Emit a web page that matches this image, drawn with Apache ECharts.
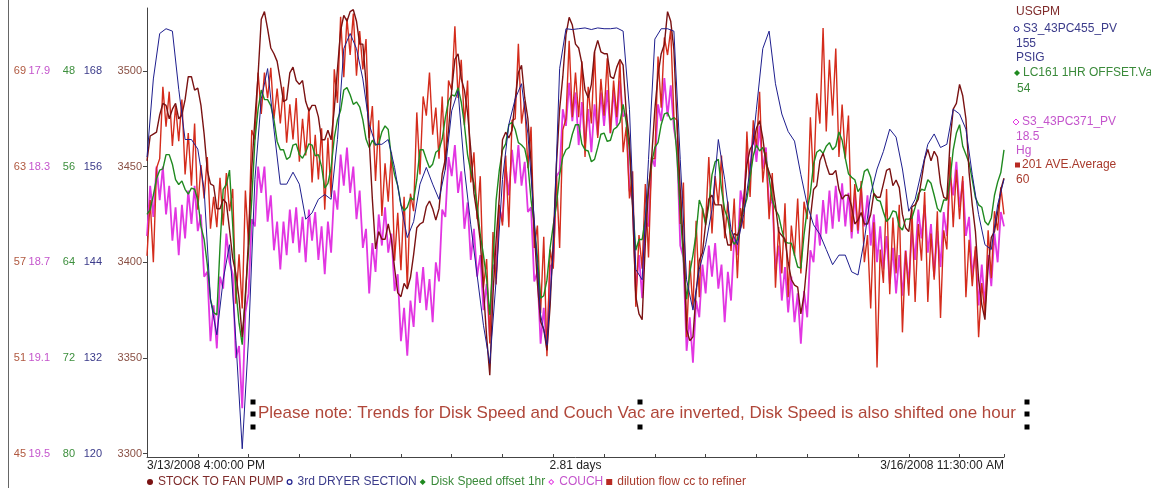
<!DOCTYPE html>
<html><head><meta charset="utf-8">
<script src="https://cdn.jsdelivr.net/npm/echarts@6/dist/echarts.min.js"></script>
<style>html,body{margin:0;padding:0;background:#fff;}#chart{width:1151px;height:488px;}</style>
</head><body><div id="chart"></div>
<script>
// ---- axis / label texts ----
const startLabel = '3/13/2008 4:00:00 PM';
const endLabel = '3/16/2008 11:30:00 AM';
const spanLabel = '2.81 days';
const spanHours = 67.5;               // 2.81 days
const note = 'Please note: Trends for Disk Speed and Couch Vac are inverted, Disk Speed is also shifted one hour';

const stockTicks = [3300, 3350, 3400, 3450, 3500];
const dryerTicks = [120, 132, 144, 156, 168];
const diskTicks = [80, 72, 64, 56, 48];
const couchTicks = [19.5, 19.1, 18.7, 18.3, 17.9];
const dilutionTicks = [45, 51, 57, 63, 69];

const seriesNames = ['STOCK TO FAN PUMP', '3rd DRYER SECTION', 'Disk Speed offset 1hr', 'COUCH', 'dilution flow cc to refiner'];

// ---- values (stock, disk, couch, dilution every 15 min; dryer every 30 min) ----
const stockValues = [
3453,3466,3467,3468,3477,3483,3482,3475,3480,3483,
3475,3477,3485,3497,3497,3490,3491,3482,3467,3448,
3441,3440,3428,3428,3433,3431,3417,3402,3394,3381,
3361,3381,3413,3449,3475,3498,3527,3531,3522,3512,
3509,3505,3495,3484,3485,3499,3502,3495,3493,3495,
3484,3479,3482,3482,3476,3464,3464,3469,3464,3480,
3501,3521,3529,3526,3531,3532,3526,3514,3514,3494,
3464,3433,3407,3416,3412,3412,3420,3412,3397,3384,
3382,3389,3386,3392,3404,3418,3420,3421,3429,3432,
3428,3422,3428,3446,3454,3469,3490,3506,3509,3496,
3490,3478,3459,3436,3425,3411,3386,3361,3341,3383,
3412,3434,3464,3468,3465,3469,3485,3499,3503,3486,
3475,3452,3417,3389,3369,3365,3354,3377,3412,3451,
3480,3497,3519,3528,3524,3514,3512,3504,3490,3486,
3493,3510,3516,3510,3509,3509,3497,3496,3502,3506,
3503,3478,3464,3428,3382,3373,3370,3410,3438,3455,
3480,3498,3509,3514,3531,3526,3511,3472,3438,3408,
3365,3359,3361,3384,3401,3405,3420,3433,3435,3430,
3430,3430,3417,3409,3409,3415,3414,3418,3433,3451,
3459,3462,3470,3474,3465,3452,3447,3442,3430,3416,
3414,3412,3400,3391,3388,3387,3373,3383,3401,3423,
3438,3440,3453,3457,3451,3446,3446,3448,3438,3433,
3435,3435,3429,3420,3422,3426,3420,3420,3425,3436,
3434,3434,3441,3448,3449,3440,3443,3439,3425,3418,
3416,3429,3430,3433,3443,3454,3459,3453,3458,3455,
3441,3434,3433,3463,3480,3483,3493,3487,3475,3447,
3430,3416,3391,3378,3370,3398,3413,3416,3426,3438,
3444];

const dryerValues = [
157.2,167.0,172.7,173.3,173.0,165.7,159.4,159.4,158.2,153.1,
139.3,134.9,141.8,146.2,134.2,120.6,134.5,154.4,164.5,168.3,
160.7,153.8,153.8,155.3,153.8,149.4,150.2,151.9,152.5,151.9,
159.4,170.8,172.7,170.8,167.0,161.3,158.8,158.8,159.4,155.9,
151.2,147.1,149.1,153.8,155.9,153.8,151.9,155.7,163.0,165.5,
155.7,148.7,142.4,136.1,131.3,141.8,154.4,161.3,164.5,166.4,
160.1,149.4,137.4,133.6,145.6,168.3,173.3,173.2,173.3,173.4,
173.2,173.4,173.3,173.3,173.4,173.0,163.2,143.1,141.8,156.9,
172.0,173.3,173.3,173.0,156.9,141.8,138.0,143.1,146.2,150.6,
159.4,154.4,148.1,146.2,150.0,155.7,163.2,170.8,173.0,166.4,
162.6,160.4,159.2,155.0,151.2,148.7,147.5,145.6,143.7,144.9,
144.9,142.8,142.4,146.8,152.5,155.7,157.9,160.7,159.7,155.7,
150.4,151.9,155.4,158.8,160.1,158.4,158.8,163.2,162.6,160.7,
155.0,150.0,146.2,145.6,151.2,154.4];

const diskValues = [
60.0,59.6,58.4,57.0,56.3,56.2,55.0,55.0,55.8,57.1,
57.5,57.2,57.9,58.3,57.8,57.9,58.8,61.0,62.1,64.2,
67.1,68.2,68.4,62.7,57.9,57.5,56.3,60.9,66.3,69.1,
70.9,66.6,63.0,58.8,53.8,51.2,49.6,50.4,50.4,50.9,
52.1,53.9,54.6,54.6,55.4,55.2,54.2,54.1,55.0,55.3,
54.8,54.1,54.2,55.1,55.0,56.0,57.8,57.4,56.1,53.6,
52.1,51.3,49.6,49.4,50.0,50.8,50.6,51.0,52.1,53.7,
54.4,53.8,54.2,54.1,53.1,52.6,52.9,55.3,56.7,57.6,
59.2,59.7,59.4,58.6,58.8,57.1,54.6,54.6,55.4,56.1,
55.8,54.8,54.6,53.7,51.9,50.5,50.0,50.1,49.4,50.6,
52.5,55.0,56.4,57.4,59.2,61.7,63.4,65.4,68.4,64.0,
58.8,56.3,54.6,54.1,52.5,52.3,52.9,54.0,54.2,54.5,
55.8,58.8,60.9,63.6,67.0,66.8,65.5,62.8,60.9,59.2,
56.7,55.2,54.6,54.4,53.3,52.5,52.5,54.1,54.6,54.7,
55.6,55.4,54.4,53.3,53.2,53.9,53.8,52.9,52.7,52.3,
50.8,52.3,54.6,59.2,63.0,62.1,62.1,60.4,57.8,55.7,
54.4,54.0,52.5,51.6,51.5,52.1,51.9,55.3,59.6,63.8,
67.1,64.9,63.4,61.6,58.8,59.5,60.9,59.2,56.7,55.6,
55.4,57.9,59.6,60.4,61.9,62.5,62.1,60.5,59.6,58.7,
56.9,55.1,54.2,54.7,54.4,55.3,56.9,58.8,59.6,60.1,
61.3,62.3,62.4,62.4,63.4,64.4,64.5,61.7,59.6,58.2,
55.8,54.8,54.6,54.9,54.3,54.0,54.6,54.3,53.1,53.8,
55.3,56.6,56.9,57.1,58.1,57.7,56.4,56.2,56.9,58.3,
58.8,58.9,59.8,60.6,60.3,59.7,59.8,61.0,61.3,60.4,
60.4,60.3,59.4,58.3,57.9,58.0,57.1,57.4,58.4,59.5,
59.8,58.8,58.8,57.1,54.6,53.2,52.5,54.3,55.0,55.7,
57.1,58.6,59.2,59.4,60.6,60.9,60.3,58.4,57.3,56.5,
54.6];

const couchValues = [
18.59,18.38,18.51,18.30,18.44,18.30,18.50,18.38,18.61,18.47,
18.67,18.46,18.60,18.40,18.54,18.38,18.57,18.50,18.76,18.74,
19.03,18.88,19.06,18.76,18.81,18.58,18.70,18.75,19.10,19.05,
19.31,18.91,18.83,18.52,18.55,18.30,18.41,18.30,18.53,18.42,
18.65,18.53,18.73,18.53,18.67,18.48,18.62,18.47,18.66,18.51,
18.70,18.48,18.61,18.49,18.69,18.55,18.75,18.53,18.66,18.40,
18.48,18.25,18.38,18.22,18.41,18.30,18.52,18.40,18.64,18.56,
18.83,18.62,18.74,18.50,18.63,18.47,18.66,18.58,18.82,18.75,
19.03,18.89,19.09,18.86,18.97,18.74,18.87,18.72,18.90,18.77,
18.95,18.70,18.78,18.48,18.51,18.26,18.34,18.21,18.41,18.32,
18.56,18.45,18.69,18.56,18.76,18.67,18.90,18.79,19.01,18.71,
18.74,18.47,18.53,18.30,18.42,18.23,18.37,18.21,18.38,18.28,
18.49,18.47,18.78,18.74,19.04,18.89,19.07,18.72,18.70,18.34,
18.32,18.06,18.13,17.95,18.11,17.99,18.21,18.03,18.21,18.06,
18.24,18.04,18.17,17.99,18.13,17.98,18.16,17.98,18.13,17.94,
18.09,18.08,18.40,18.44,18.82,18.67,18.85,18.53,18.55,18.26,
18.30,18.04,18.11,17.93,18.09,17.96,18.14,18.22,18.63,18.68,
19.07,18.93,19.12,18.86,18.93,18.71,18.83,18.63,18.76,18.62,
18.81,18.71,18.95,18.74,18.86,18.60,18.67,18.40,18.47,18.23,
18.33,18.14,18.28,18.13,18.31,18.22,18.47,18.43,18.73,18.63,
18.86,18.72,18.91,18.76,18.95,18.83,19.04,18.82,18.93,18.65,
18.70,18.50,18.63,18.44,18.58,18.40,18.56,18.38,18.53,18.37,
18.55,18.41,18.60,18.42,18.58,18.40,18.55,18.42,18.63,18.50,
18.70,18.55,18.73,18.59,18.79,18.64,18.83,18.67,18.84,18.65,
18.79,18.57,18.69,18.48,18.60,18.46,18.66,18.54,18.76,18.57,
18.72,18.49,18.59,18.34,18.42,18.28,18.47,18.36,18.59,18.51,
18.76,18.65,18.88,18.71,18.88,18.67,18.80,18.58,18.70,18.49,
18.55];

const dilutionValues = [
57.4,60.9,57.0,62.9,63.5,68.0,65.5,67.7,64.3,66.8,
64.6,67.2,62.5,65.1,61.8,65.7,60.3,63.1,61.0,63.6,
59.1,61.1,59.2,62.3,59.3,62.6,60.2,61.6,54.4,57.5,
54.1,61.5,58.1,65.3,64.7,68.9,66.3,68.9,67.3,69.2,
66.0,67.9,65.7,68.0,64.5,66.9,64.7,67.3,63.3,66.0,
63.7,66.7,62.0,65.0,62.2,65.4,60.3,64.8,61.1,69.1,
67.0,72.4,68.6,72.3,70.0,72.6,68.7,71.5,69.1,71.0,
64.8,66.8,62.1,65.9,59.9,63.2,60.8,63.9,57.1,60.1,
56.5,61.1,55.4,61.3,60.2,66.4,62.5,67.4,66.2,68.9,
65.0,66.7,63.5,67.4,62.8,68.4,67.8,71.8,67.3,69.7,
65.6,68.4,62.0,63.9,59.7,62.4,55.4,57.2,51.9,58.9,
55.6,60.6,59.3,63.7,59.2,65.9,66.0,70.7,65.7,67.1,
62.9,65.5,57.9,59.3,53.8,58.6,51.1,57.8,56.6,62.4,
57.9,65.3,66.0,70.9,66.1,68.9,66.1,69.6,63.6,68.0,
65.7,70.2,64.8,68.5,66.2,69.8,65.1,68.4,66.1,69.6,
63.9,65.5,61.0,62.7,54.2,58.7,56.6,61.9,57.3,63.5,
63.5,69.9,66.7,71.1,70.0,71.6,66.1,65.9,59.4,62.0,
52.3,57.1,54.1,59.6,54.8,60.4,59.5,63.6,58.8,62.4,
60.6,63.7,58.5,60.8,57.7,61.0,56.0,60.4,59.1,65.2,
61.1,65.9,64.2,67.7,62.0,63.9,59.7,62.6,55.4,59.2,
56.3,60.7,54.8,59.3,57.4,61.0,56.3,60.8,59.7,66.1,
62.0,67.6,65.7,71.7,65.2,69.7,66.2,70.4,63.6,66.9,
63.5,66.2,58.9,61.9,59.0,62.1,57.0,58.7,54.1,59.5,
50.4,57.8,55.7,61.6,55.0,59.8,56.3,60.6,52.6,57.7,
54.9,60.3,54.5,59.4,57.1,61.4,54.5,58.8,55.9,60.2,
53.5,59.0,57.8,63.6,59.2,62.8,59.7,62.4,54.8,58.4,
55.5,58.0,52.3,55.7,53.7,59.0,56.0,60.2,59.0,61.7,
60.0];

// right-hand value block
const sideTexts = [
  ['USGPM', '#7e2a2a'],
  ['S3_43PC455_PV', '#3b3b8a'], ['155', '#3b3b8a'], ['PSIG', '#3b3b8a'],
  ['LC161 1HR OFFSET.Va', '#3a8a3a'], ['54', '#3a8a3a'],
  ['S3_43PC371_PV', '#c454cc'], ['18.5', '#c454cc'], ['Hg', '#c454cc'],
  ['201 AVE.Average', '#a83a2c'], ['60', '#a83a2c']
];

// ---- styling ----
const FONT = '"Liberation Sans", Arial, sans-serif';
const C = {
  stock: '#7a1212', dryer: '#1e1e8e', disk: '#1f8a1f', couch: '#e236e2', dilution: '#d42c1c'
};
const quarter = 0.25, half = 0.5;
const toPairs = (arr, step) => arr.map((v, i) => [i * step, v]);
const ringIcon = 'path://M5,0A5,5,0,1,1,5,10A5,5,0,1,1,5,0ZM5,2A3,3,0,1,0,5,8A3,3,0,1,0,5,2Z';
const diamondOutlineIcon = 'path://M5,0L10,5L5,10L0,5ZM5,2.2L2.2,5L5,7.8L7.8,5Z';

const labelAxis = (offset, min, max, ticks, color, inverse, fmt) => ({
  type: 'value', position: 'left', offset, min, max, inverse: !!inverse,
  axisLine: { show: false }, axisTick: { show: false }, splitLine: { show: false },
  axisLabel: { customValues: ticks, color, fontSize: 11, fontFamily: FONT, margin: 5,
    formatter: fmt || (v => String(v)) }
});

const chart = echarts.init(document.getElementById('chart'), null, { renderer: 'canvas' });
const option = {
  animation: false,
  backgroundColor: '#ffffff',
  grid: { left: 147, right: 147, top: 8, bottom: 31, containLabel: false },
  xAxis: {
    type: 'value', min: 0, max: spanHours, interval: 4,
    axisLine: { lineStyle: { color: '#444', width: 1 } },
    axisTick: { inside: true, length: 3, lineStyle: { color: '#444' } },
    axisLabel: { show: false }, splitLine: { show: false }
  },
  yAxis: [
    { type: 'value', position: 'left', min: 3298.2, max: 3532.9,
      axisLine: { show: true, lineStyle: { color: '#444' } },
      axisTick: { show: true, length: 4, customValues: stockTicks, lineStyle: { color: '#444' } },
      axisLabel: { customValues: stockTicks, color: '#8a5044', fontSize: 11, fontFamily: FONT, margin: 5,
        formatter: v => String(v) },
      splitLine: { show: false } },
    labelAxis(40, 119.57, 175.9, dryerTicks, '#3b3b8a'),
    labelAxis(67, 42.74, 80.29, diskTicks, '#3d8f3d', true),
    labelAxis(92, 17.637, 19.514, couchTicks, '#c454cc', true, v => v.toFixed(1)),
    labelAxis(116, 44.78, 72.95, dilutionTicks, '#b0583f')
  ],
  legend: {
    left: 147, top: 476, padding: 0, itemWidth: 6, itemHeight: 6, itemGap: 3,
    textStyle: { fontSize: 12, fontFamily: FONT },
    data: [
      { name: seriesNames[0], icon: 'circle', itemStyle: { color: C.stock }, textStyle: { color: '#7e2a2a' } },
      { name: seriesNames[1], icon: ringIcon, itemStyle: { color: C.dryer }, textStyle: { color: '#3b3b8a' } },
      { name: seriesNames[2], icon: 'diamond', itemStyle: { color: C.disk }, textStyle: { color: '#3a8a3a' } },
      { name: seriesNames[3], icon: diamondOutlineIcon, itemStyle: { color: C.couch }, textStyle: { color: '#c454cc' } },
      { name: seriesNames[4], icon: 'rect', itemStyle: { color: '#b82a22' }, textStyle: { color: '#a83a2c' } }
    ]
  },
  series: [
    { name: seriesNames[3], type: 'line', yAxisIndex: 3, data: toPairs(couchValues, quarter),
      symbol: 'none', lineStyle: { color: C.couch, width: 1.8 }, itemStyle: { color: C.couch } },
    { name: seriesNames[4], type: 'line', yAxisIndex: 4, data: toPairs(dilutionValues, quarter),
      symbol: 'none', lineStyle: { color: C.dilution, width: 1.4 }, itemStyle: { color: C.dilution } },
    { name: seriesNames[2], type: 'line', yAxisIndex: 2, data: toPairs(diskValues, quarter),
      symbol: 'none', lineStyle: { color: C.disk, width: 1.4 }, itemStyle: { color: C.disk } },
    { name: seriesNames[0], type: 'line', yAxisIndex: 0, data: toPairs(stockValues, quarter),
      symbol: 'none', lineStyle: { color: C.stock, width: 1.4 }, itemStyle: { color: C.stock } },
    { name: seriesNames[1], type: 'line', yAxisIndex: 1, data: toPairs(dryerValues, half),
      symbol: 'none', lineStyle: { color: C.dryer, width: 1 }, itemStyle: { color: C.dryer } }
  ]
};
chart.setOption(option);

// ---- annotations, labels, side block ----
const xStart = chart.convertToPixel({ xAxisIndex: 0 }, 0);
const xEnd = chart.convertToPixel({ xAxisIndex: 0 }, spanHours);
const xMid = chart.convertToPixel({ xAxisIndex: 0 }, spanHours / 2);
const yAxisBottom = chart.convertToPixel({ yAxisIndex: 0 }, 3298.2);

const txt = (text, x, y, color, align, size) => ({
  type: 'text', x, y, silent: true,
  style: { text, fill: color, fontSize: size || 12, fontFamily: FONT,
    align: align || 'left', verticalAlign: 'middle', textAlign: align || 'left', textVerticalAlign: 'middle' }
});
const sq = (x, y) => ({ type: 'rect', shape: { x: x - 2.5, y: y - 2.5, width: 5, height: 5 }, style: { fill: '#000' }, silent: true });

const sideY = [12, 29, 44, 58, 73, 89, 122, 137, 151, 165, 180];
const sideX = [1016, 1023, 1016, 1016, 1023, 1017, 1022, 1016, 1016, 1022, 1016];
const graphics = [
  { type: 'line', shape: { x1: 8.5, y1: 0, x2: 8.5, y2: 488 }, style: { stroke: '#666', lineWidth: 1 }, silent: true },
  txt(startLabel, xStart, yAxisBottom + 9, '#222', 'left'),
  txt(spanLabel, xMid, yAxisBottom + 9, '#222', 'center'),
  txt(endLabel, xEnd, yAxisBottom + 9, '#222', 'right'),
  txt(note, 258, 413, '#b0473a', 'left', 17),
  sq(253, 402), sq(253, 414), sq(253, 427),
  sq(640, 402), sq(640, 427),
  sq(1027, 402), sq(1027, 414), sq(1027, 427),
  { type: 'circle', shape: { cx: 1016.5, cy: 29, r: 2.5 }, style: { fill: '#fff', stroke: C.dryer, lineWidth: 1 }, silent: true },
  { type: 'polygon', shape: { points: [[1017, 70], [1020, 73], [1017, 76], [1014, 73]] }, style: { fill: C.disk }, silent: true },
  { type: 'polygon', shape: { points: [[1016, 119], [1019, 122], [1016, 125], [1013, 122]] }, style: { fill: '#fff', stroke: C.couch, lineWidth: 1 }, silent: true },
  { type: 'rect', shape: { x: 1015, y: 162.5, width: 5, height: 5 }, style: { fill: '#b82a22' }, silent: true }
];
sideTexts.forEach((t, i) => graphics.push(txt(t[0], sideX[i], sideY[i], t[1], 'left')));
chart.setOption({ graphic: graphics });
</script>
</body></html>
